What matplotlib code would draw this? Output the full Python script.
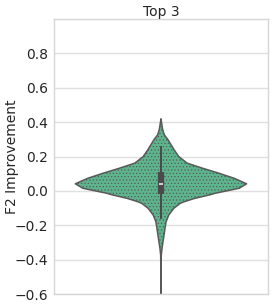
import numpy as np
import matplotlib
matplotlib.use("Agg")
import matplotlib.pyplot as plt
import seaborn as sns

# violin outline: value -> half width (relative)
profile_y = [0.42, 0.40, 0.357, 0.327, 0.298, 0.269, 0.24, 0.2, 0.162, 0.133,
             0.103, 0.074, 0.042, 0.016, -0.013, -0.023, -0.043, -0.063,
             -0.072, -0.101, -0.14, -0.18, -0.218, -0.257, -0.296, -0.335,
             -0.374, -0.45, -0.6]
profile_w = [0.0, 0.5, 1.7, 3.3, 7.0, 10.0, 13.0, 17.7, 26.0, 41.0,
             57.7, 72.7, 85.0, 77.7, 54.0, 48.0, 33.5, 22.7,
             19.0, 12.7, 7.7, 5.0, 4.0, 3.0, 2.0, 1.0,
             0.3, 0.1, 0.0]

# inner box stats
q1, median, q3 = -0.02, 0.042, 0.109
whisk_lo, whisk_hi = -0.16, 0.26

title = "Top 3"
ylabel = "F2 Improvement"
yticks = [-0.6, -0.4, -0.2, 0.0, 0.2, 0.4, 0.6, 0.8]

sns.set_style("whitegrid")
plt.rcParams['font.family'] = ['DejaVu Sans']
plt.rcParams['hatch.color'] = '#7d7d7d'
plt.rcParams['hatch.linewidth'] = 0.5

fig = plt.figure(figsize=(2.74, 3.08), dpi=100)
ax = fig.add_axes([0.197, 0.045, 0.781, 0.893])

vpstats = [{
    'coords': np.array(profile_y),
    'vals': np.array(profile_w),
    'mean': median, 'median': median,
    'min': min(profile_y), 'max': max(profile_y),
}]
parts = ax.violin(vpstats, positions=[0], widths=0.8, showmeans=False,
                  showextrema=False, showmedians=False)
for body in parts['bodies']:
    body.set_facecolor('#5db58d')
    body.set_edgecolor('#595959')
    body.set_linewidth(1.1)
    body.set_alpha(1)
    body.set_hatch('.....')

ax.vlines(0, whisk_lo, whisk_hi, color='#4a4a4a', lw=1.4, zorder=3)
ax.vlines(0, q1, q3, color='#4a4a4a', lw=4.5, zorder=3)
ax.hlines(median, -0.01, 0.01, color='#d0d0d0', lw=1.5, zorder=4)

ax.set_xlim(-0.5, 0.5)
ax.set_ylim(-0.6, 1.0)
ax.set_xticks([])
ax.set_yticks(yticks)
ax.set_yticklabels([f"{v:.1f}".replace('-', '\u2212') for v in yticks],
                   fontsize=10)
ax.tick_params(axis='y', length=0, pad=4, colors='#262626')
ax.set_title(title, fontsize=10, pad=2.5, color='#262626')
ax.set_ylabel(ylabel, fontsize=10, color='#262626')
ax.yaxis.set_label_coords(-0.165, 0.5)
ax.grid(axis='y', color='#e0e0e0', lw=1)
for s in ax.spines.values():
    s.set_color('#d6d6d6')
    s.set_linewidth(1)

fig.savefig("out.png", dpi=100)
